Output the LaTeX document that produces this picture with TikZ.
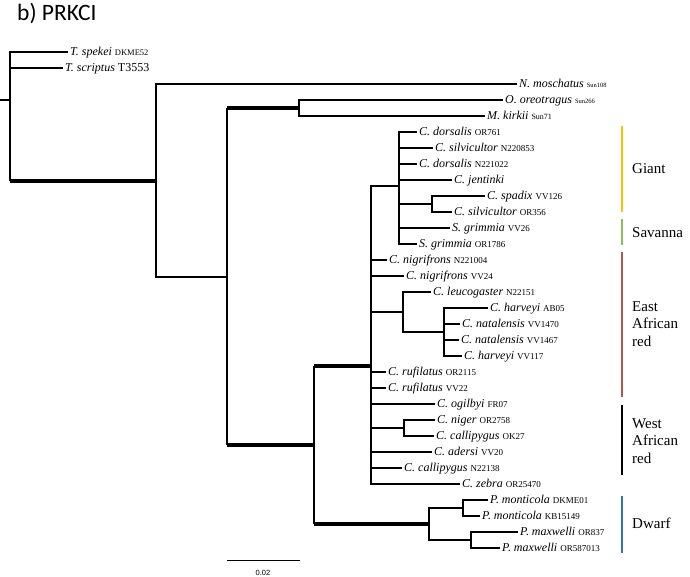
\documentclass[tikz,border=0pt]{standalone}
\usepackage{fontspec}
\setmainfont{Liberation Serif}
\newfontfamily\titlefont{Carlito}
\newfontfamily\scalefont{Liberation Sans}
\usepackage{xcolor}
\usepackage{tikz}
\usetikzlibrary{positioning, calc}

\definecolor{giantcol}{HTML}{FFC000}
\definecolor{savcol}{HTML}{8CBF5A}
\definecolor{eastcol}{HTML}{B85450}
\definecolor{dwarfcol}{HTML}{2E75B6}

\newcommand{\spn}[1]{\textit{#1}}
\newcommand{\accn}[2][9]{{\fontsize{#1}{#1}\selectfont #2}}

\tikzset{
	br/.style={line width=1.1pt},
	thickbr/.style={line width=4pt},
	leaf/.style={anchor=west, inner xsep=2pt, inner ysep=0pt, text height=7.8pt, text depth=0pt, font=\fontsize{12}{13}\selectfont},
	cladebar/.style={line width=2pt},
	cladelab/.style={anchor=west, align=left, inner sep=0pt, font=\fontsize{15}{17.5}\selectfont},
}

\begin{document}
\begin{tikzpicture}[x=1pt, y=-1pt]
	\useasboundingbox (0,0) rectangle (690,577);
	\node[anchor=north west, inner sep=0pt, font=\titlefont\fontsize{23.5}{26}\selectfont] (title) at (17,3) {b) PRKCI};

	% internal nodes
	\coordinate (stub) at (0,100);
	\coordinate (root) at (10,100);
	\coordinate (n156) at (156,181);
	\coordinate (n227) at (227,277);
	\coordinate (n299) at (299,108);
	\coordinate (n314) at (314,445);
	\coordinate (n371) at (371,366);
	\coordinate (n399) at (399,186);
	\coordinate (n432) at (432,204);
	\coordinate (n403) at (403,312);
	\coordinate (n444) at (444,332);
	\coordinate (n404) at (404,428);
	\coordinate (n429) at (429,524);
	\coordinate (n463) at (463,508);
	\coordinate (n471) at (471,540);

	% leaves
	\node[leaf] (tspe) at (68,52) {\spn{T. spekei} \accn[8.5]{DKME52}};
	\node[leaf] (tscr) at (63,68) {\spn{T. scriptus} T3553};
	\node[leaf] (nmos) at (517,84) {\spn{N. moschatus} \accn[6.5]{Sun108}};
	\node[leaf] (oreo) at (503,100) {\spn{O. oreotragus} \accn[6.5]{Sun266}};
	\node[leaf] (mkir) at (485,116) {\spn{M. kirkii} \accn[8]{Sun71}};
	\node[leaf] (dors1) at (417,132) {\spn{C. dorsalis} \accn{OR761}};
	\node[leaf] (silv1) at (433,148) {\spn{C. silvicultor} \accn{N220853}};
	\node[leaf] (dors2) at (417,164) {\spn{C. dorsalis} \accn{N221022}};
	\node[leaf] (jent) at (452,180) {\spn{C. jentinki}};
	\node[leaf] (spad) at (485,196) {\spn{C. spadix} \accn{VV126}};
	\node[leaf] (silv2) at (452,212) {\spn{C. silvicultor} \accn{OR356}};
	\node[leaf] (grim1) at (450,228) {\spn{S. grimmia} \accn{VV26}};
	\node[leaf] (grim2) at (417,244) {\spn{S. grimmia} \accn{OR1786}};
	\node[leaf] (nig1) at (387,260) {\spn{C. nigrifrons} \accn{N221004}};
	\node[leaf] (nig2) at (404,276) {\spn{C. nigrifrons} \accn{VV24}};
	\node[leaf] (leuc) at (431,292) {\spn{C. leucogaster} \accn{N22151}};
	\node[leaf] (harv1) at (488,308) {\spn{C. harveyi} \accn{AB05}};
	\node[leaf] (nata1) at (460,324) {\spn{C. natalensis} \accn{VV1470}};
	\node[leaf] (nata2) at (459,340) {\spn{C. natalensis} \accn{VV1467}};
	\node[leaf] (harv2) at (462,356) {\spn{C. harveyi} \accn{VV117}};
	\node[leaf] (ruf1) at (386,372) {\spn{C. rufilatus} \accn{OR2115}};
	\node[leaf] (ruf2) at (386,388) {\spn{C. rufilatus} \accn{VV22}};
	\node[leaf] (ogil) at (435,404) {\spn{C. ogilbyi} \accn{FR07}};
	\node[leaf] (nige) at (435,420) {\spn{C. niger} \accn{OR2758}};
	\node[leaf] (call1) at (434,436) {\spn{C. callipygus} \accn{OK27}};
	\node[leaf] (ader) at (432,452) {\spn{C. adersi} \accn{VV20}};
	\node[leaf] (call2) at (402,468) {\spn{C. callipygus} \accn{N22138}};
	\node[leaf] (zebr) at (460,484) {\spn{C. zebra} \accn{OR25470}};
	\node[leaf] (mont1) at (488,500) {\spn{P. monticola} \accn{DKME01}};
	\node[leaf] (mont2) at (480,516) {\spn{P. monticola} \accn{KB15149}};
	\node[leaf] (maxw1) at (518,532) {\spn{P. maxwelli} \accn{OR837}};
	\node[leaf] (maxw2) at (500,548) {\spn{P. maxwelli} \accn{OR587013}};

	% branches
	\draw[br] (stub) -- (root);
	\draw[br] (root) |- (tspe.west);
	\draw[br] (root) |- (tscr.west);
	\draw[br] (root) -- (root |- n156);
	\draw[thickbr] (root |- n156) -- (n156);
	\draw[br] (n156) |- (nmos.west);
	\draw[br] (n156) |- (n227);
	\draw[br] (n227 |- n299) -- (n227 |- n314);
	\draw[thickbr] (n227 |- n299) -- (n299);
	\draw[thickbr] (n227 |- n314) -- (n314);
	\draw[br] (n299) |- (oreo.west);
	\draw[br] (n299) |- (mkir.west);
	\draw[br] (n314 |- n371) -- (n314 |- n429);
	\draw[thickbr] (n314 |- n371) -- (n371);
	\draw[thickbr] (n314 |- n429) -- (n429);
	\draw[br] (n371) |- (n399);
	\foreach \c in {nig1,nig2,ruf1,ruf2,ogil,ader,call2,zebr}
		\draw[br] (n371) |- (\c.west);
	\draw[br] (n371) |- (n403);
	\draw[br] (n371) |- (n404);
	\foreach \c in {dors1,silv1,dors2,jent,grim1,grim2}
		\draw[br] (n399) |- (\c.west);
	\draw[br] (n399) |- (n432);
	\draw[br] (n432) |- (spad.west);
	\draw[br] (n432) |- (silv2.west);
	\draw[br] (n403) |- (leuc.west);
	\draw[br] (n403) |- (n444);
	\foreach \c in {harv1,nata1,nata2,harv2}
		\draw[br] (n444) |- (\c.west);
	\draw[br] (n404) |- (nige.west);
	\draw[br] (n404) |- (call1.west);
	\draw[br] (n429) |- (n463);
	\draw[br] (n429) |- (n471);
	\draw[br] (n463) |- (mont1.west);
	\draw[br] (n463) |- (mont2.west);
	\draw[br] (n471) |- (maxw1.west);
	\draw[br] (n471) |- (maxw2.west);

	% clade bars
	\draw[cladebar, giantcol] (622,126) -- (622,212);
	\node[cladelab] (giant) at (632,169) {Giant};
	\draw[cladebar, savcol] (622,219) -- (622,245);
	\node[cladelab] (sav) at (632,233) {Savanna};
	\draw[cladebar, eastcol] (622,252) -- (622,397);
	\node[cladelab] (east) at (632,324) {East\\African\\red};
	\draw[cladebar, black] (622,405) -- (622,475);
	\node[cladelab] (west) at (632,441) {West\\African\\red};
	\draw[cladebar, dwarfcol] (622,496) -- (622,553);
	\node[cladelab] (dwarf) at (632,523) {Dwarf};

	% scale
	\coordinate (sbl) at (227,560);
	\coordinate (sbr) at (300,560);
	\draw[line width=0.9pt] (sbl) -- (sbr);
	\node[font=\scalefont\fontsize{7.5}{8}\selectfont, inner sep=0pt] (sblab) at (263,573) {0.02};
\end{tikzpicture}
\end{document}
